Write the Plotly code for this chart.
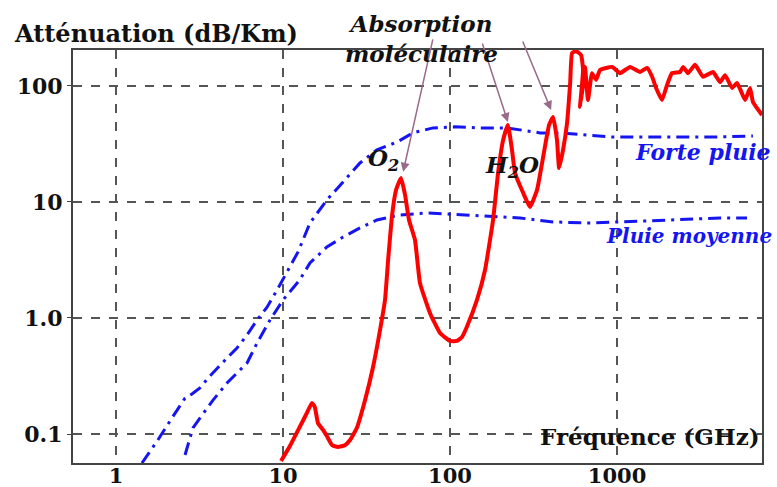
import plotly.graph_objects as go
import numpy as np

# Red curve: molecular absorption (GHz, dB/km)
abs_f = [9.73, 11.0, 12.6, 13.9, 14.9, 15.5, 16.2, 17.4, 18.3, 19.7, 21.3, 23.5, 25.2, 27.7, 31.0,
         34.6, 38.1, 40.8, 42.6, 45.0, 47.5, 50.9, 53.8, 56.8, 61.7, 66.1, 75.9, 87.1, 100, 110,
         118, 126, 145, 162, 181, 194, 208, 222, 235, 245, 274, 301, 332, 361, 392, 414, 437,
         450, 475, 502, 524, 538, 568, 609, 626, 600, 630, 643, 670, 708, 749, 791, 934, 1042,
         1197, 1373, 1514, 1622, 1713, 1859, 1992, 2134, 2384, 2485, 2663, 2931, 3274, 3758,
         4138, 4436, 4886, 5236, 5841, 6258, 6512, 7381]
abs_a = [0.0585, 0.0788, 0.115, 0.152, 0.185, 0.171, 0.124, 0.108, 0.096, 0.080, 0.0773, 0.080,
         0.0887, 0.113, 0.196, 0.378, 0.788, 1.43, 3.16, 7.73, 12.7, 16.1, 11.5, 7.0, 4.70, 2.00,
         1.10, 0.743, 0.634, 0.634, 0.686, 0.836, 1.43, 2.59, 7.0, 17.8, 34.2, 46.1, 28.1, 17.8,
         12.0, 9.06, 12.7, 24.4, 46.1, 54.1, 34.2, 19.6, 28.1, 48.0, 106, 192, 200, 185, 137,
         65.9, 110, 146, 75.7, 129, 113, 137, 146, 129, 146, 132, 143, 120, 96.1, 75.7, 102, 129,
         132, 146, 129, 152, 120, 132, 108, 124, 96.1, 106, 75.7, 96.1, 72.8, 56.2]

# Blue dash-dot: heavy rain
heavy_f = [1.43, 1.78, 2.16, 2.59, 2.85, 3.18, 3.56, 4.03, 4.62, 5.30, 6.09, 6.99, 8.02, 9.21,
           10.6, 12.3, 14.5, 18.3, 22.9, 28.9, 36.5, 48.2, 60.0, 79.1, 107, 151, 219, 346, 456,
           946, 1808, 3758, 6512]
heavy_a = [0.0562, 0.0887, 0.137, 0.204, 0.221, 0.249, 0.304, 0.371, 0.452, 0.551, 0.713, 0.961,
           1.24, 1.74, 2.49, 3.71, 6.59, 10.4, 14.9, 21.7, 28.1, 32.9, 39.4, 43.5, 44.4, 43.5,
           43.5, 39.4, 39.4, 36.3, 36.3, 36.3, 37.1]

# Blue dash-dot: moderate rain
mod_f = [2.59, 2.77, 2.89, 3.18, 3.81, 4.62, 5.30, 6.09, 6.99, 8.36, 10, 12.6, 14.5, 18.3, 22.9,
         28.9, 36.5, 50.2, 72.8, 115, 262, 414, 661, 1042, 2076, 4138, 6000]
mod_a = [0.0659, 0.0942, 0.113, 0.137, 0.196, 0.275, 0.336, 0.409, 0.608, 0.961, 1.43, 2.13, 2.98,
         4.09, 4.99, 5.97, 7.0, 7.73, 8.04, 7.73, 7.28, 6.73, 6.59, 6.73, 7.0, 7.28, 7.28]

x_ticks = [1, 10, 100, 1000]
x_ticktext = ["1", "10", "100", "1000"]
y_ticks = [0.1, 1, 10, 100]
y_ticktext = ["0.1", "1.0", "10", "100"]

# arrow targets (absorption peaks)
arrow_f = [52.4, 222, 403]
arrow_a = [18.2, 49, 62]
arrow_dx = [30, -26, -29]
arrow_dy = [-134, -80, -70]

BLUE = "#1515f0"
FONT = "DejaVu Serif"

fig = go.Figure()
fig.add_trace(go.Scatter(x=heavy_f, y=heavy_a, mode="lines",
                         line=dict(color=BLUE, width=3, dash="13px,6px,3px,6px"), hoverinfo="skip"))
fig.add_trace(go.Scatter(x=mod_f, y=mod_a, mode="lines",
                         line=dict(color=BLUE, width=3, dash="13px,6px,3px,6px"), hoverinfo="skip"))
fig.add_trace(go.Scatter(x=abs_f, y=abs_a, mode="lines",
                         line=dict(color="#ff0000", width=4, shape="spline", smoothing=0.4), hoverinfo="skip"))

annotations = []
for f, a, dx, dy in zip(arrow_f, arrow_a, arrow_dx, arrow_dy):
    annotations.append(dict(x=np.log10(f), y=np.log10(a), xref="x", yref="y", text="",
                            showarrow=True, ax=dx, ay=dy, arrowhead=2, arrowsize=1.2,
                            arrowwidth=1.5, arrowcolor="#9a6a8a"))

def txt(text, x, y, size=22, color="#111", xanchor="center"):
    return dict(text=text, x=x, y=y, xref="paper", yref="paper", showarrow=False,
                xanchor=xanchor, yanchor="middle",
                font=dict(family=FONT, size=size, color=color, weight="bold"))

annotations += [
    txt("Atténuation (dB/Km)", -0.0885, 1.041, size=24, xanchor="left"),
    txt("<i>Absorption</i><br><i>moléculaire</i>", 0.5065, 1.029, size=23),
    txt("Fréquence (GHz)", 0.837, 0.063, size=23),
    txt("<i>Forte pluie</i>", 0.914, 0.753, size=22, color=BLUE),
    txt("<i>Pluie moyenne</i>", 1.017, 0.550, size=20, color=BLUE, xanchor="right"),
    txt("<i>O<sub>2</sub></i>", 0.450, 0.734, size=23),
    txt("<i>H<sub>2</sub>O</i>", 0.637, 0.717, size=23),
]

axis_common = dict(type="log", showline=True, linecolor="#444", linewidth=2, mirror=True,
                   showgrid=True, gridcolor="#555", gridwidth=1.5, griddash="dash",
                   zeroline=False, tickcolor="#444", automargin=False)

fig.update_layout(
    width=777, height=487,
    margin=dict(l=73, r=15, t=50, b=24),
    paper_bgcolor="white", plot_bgcolor="white",
    showlegend=False,
    xaxis=dict(range=[-0.2575, 3.868], tickvals=x_ticks, ticktext=x_ticktext,
               ticks="", ticklabelstandoff=-7,
               tickfont=dict(family=FONT, size=21, color="#111", weight="bold"), **axis_common),
    yaxis=dict(range=[-1.25, 2.31], tickvals=y_ticks, ticktext=y_ticktext,
               ticks="outside", ticklen=4,
               tickfont=dict(family=FONT, size=22, color="#111", weight="bold"), **axis_common),
    annotations=annotations,
)

fig.write_html("out.html")
